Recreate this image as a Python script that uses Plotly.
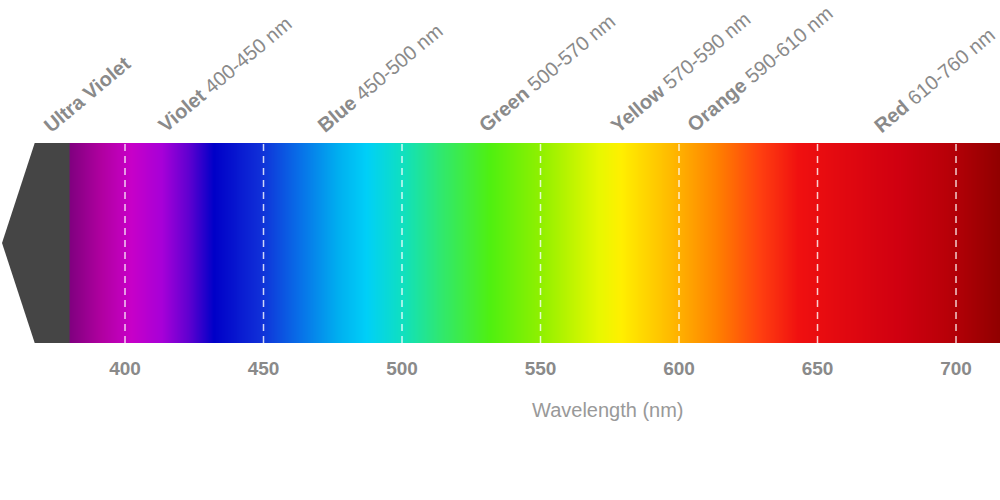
import plotly.graph_objects as go

# wavelength colour stops (nm -> colour)
stop_nm = [380, 391, 402, 413, 423, 432, 449, 463, 477, 487, 500, 514, 532,
           550, 571, 579, 600, 614, 629, 643, 679, 697, 716]
stop_colors = ['#800080', '#b000a0', '#c800c8', '#a800d8', '#6000d0', '#0000c8',
               '#1030d8', '#0870e8', '#00b0f0', '#00d0f8', '#10e0c0', '#30e870',
               '#50f010', '#90f000', '#e8f800', '#fff000', '#ffb000', '#ff8000',
               '#ff4010', '#f01010', '#d00010', '#b80008', '#900000']

# ultra violet block on the left
uv_x = [380, 367.4, 355.6, 367.4, 380]
uv_y = [1, 1, 0.5, 0, 0]

tick_nm = [400, 450, 500, 550, 600, 650, 700]

band_names = ['Ultra Violet', 'Violet', 'Blue', 'Green', 'Yellow', 'Orange', 'Red']
band_ranges = ['', '400-450 nm', '450-500 nm', '500-570 nm', '570-590 nm',
               '590-610 nm', '610-760 nm']
label_nm = [368.2, 409.7, 466.8, 525.3, 572.9, 600.4, 667.9]

GREY = '#8a8a8a'
FONT = 'Liberation Sans, Arial, sans-serif'

lo, hi = stop_nm[0], stop_nm[-1]
cscale = [[(w - lo) / (hi - lo), c] for w, c in zip(stop_nm, stop_colors)]

fig = go.Figure()

fig.add_trace(go.Heatmap(
    x=stop_nm, y=[0, 1], z=[stop_nm, stop_nm],
    colorscale=cscale, zmin=lo, zmax=hi, zsmooth='best',
    showscale=False, hoverinfo='skip'))

fig.add_trace(go.Scatter(
    x=uv_x, y=uv_y, fill='toself', fillcolor='#454545',
    mode='lines', line=dict(color='#454545', width=0),
    hoverinfo='skip', showlegend=False))

# dashed white markers at each tick
dx, dy = [], []
for t in tick_nm:
    dx += [t, t, None]
    dy += [0, 1, None]
fig.add_trace(go.Scatter(
    x=dx, y=dy, mode='lines',
    line=dict(color='rgba(255,255,255,0.8)', width=1.5, dash='7px,5px'),
    hoverinfo='skip', showlegend=False))

for name, rng, xpos in zip(band_names, band_ranges, label_nm):
    txt = '<b>%s</b>' % name
    if rng:
        txt += ' ' + rng
    fig.add_annotation(
        x=xpos, y=1, xref='x', yref='paper', text=txt, showarrow=False,
        textangle=-40, xanchor='left', yanchor='bottom', yshift=4,
        font=dict(family=FONT, size=20, color=GREY))

fig.add_annotation(
    x=0.608, y=-0.335, xref='paper', yref='paper', text='Wavelength (nm)',
    showarrow=False, xanchor='center', yanchor='middle',
    font=dict(family=FONT, size=20, color='#999999'))

fig.update_layout(
    width=1000, height=500,
    margin=dict(l=0, r=0, t=143, b=157),
    paper_bgcolor='white', plot_bgcolor='white',
    showlegend=False,
    xaxis=dict(range=[354.87, 715.88], tickvals=tick_nm,
               ticktext=['<b>%d</b>' % t for t in tick_nm],
               tickfont=dict(family=FONT, size=19, color=GREY),
               ticklabelstandoff=12,
               showgrid=False, zeroline=False, showline=False, ticks=''),
    yaxis=dict(range=[0, 1], visible=False, fixedrange=True),
)

# drop the page's default body margin so the figure sits at the window edge
fig.write_html("out.html", config={'displayModeBar': False},
               post_script="document.body.style.margin='0';document.body.style.overflow='hidden';")
